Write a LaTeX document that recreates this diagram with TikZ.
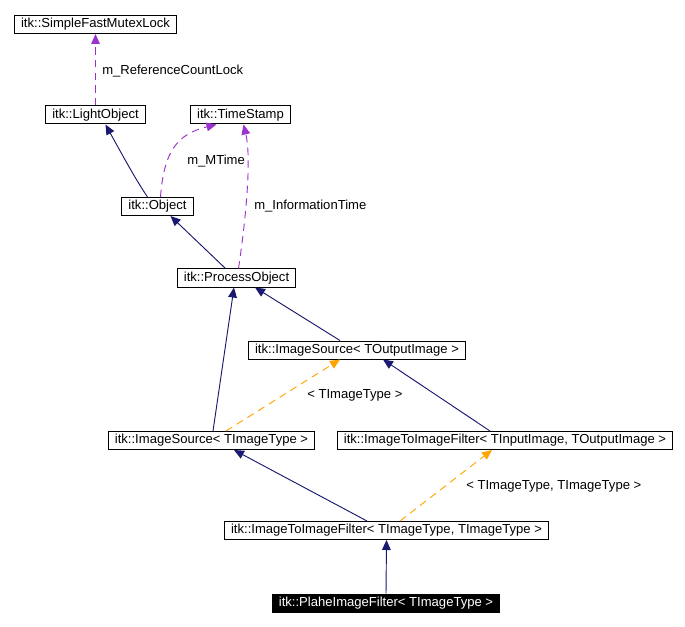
\documentclass[tikz,border=0pt]{standalone}
\usepackage{fontspec}
\setmainfont{Liberation Sans}
\usepackage{tikz}
\usetikzlibrary{arrows.meta,calc}
\definecolor{inhblue}{HTML}{191970}
\definecolor{membpurple}{HTML}{9A32CD}
\definecolor{tmplorange}{HTML}{FFA500}

\begin{document}
\begin{tikzpicture}[x=0.75pt,y=-0.75pt,every node/.style={font=\fontsize{9.8pt}{11pt}\selectfont},
    cls/.style={draw,line width=0.75pt,inner xsep=5pt,inner ysep=0pt,minimum height=13.5pt},
    inherit/.style={draw=inhblue,line width=0.7pt,-{Triangle[length=7.5pt,width=6.5pt,fill=inhblue]}},
    member/.style={draw=membpurple,line width=0.7pt,dash pattern=on 5.5pt off 4pt,-{Triangle[length=7.5pt,width=6.5pt,fill=membpurple]}},
    tmpl/.style={draw=tmplorange,line width=0.7pt,dash pattern=on 5.5pt off 4pt,-{Triangle[length=7.5pt,width=6.5pt,fill=tmplorange]}},
    lbl/.style={anchor=west,inner sep=0pt}]
                \useasboundingbox[fill=white] (0,0) rectangle (685,627);
                \node[cls] (mutex) at (95.5,24.5) {itk::SimpleFastMutexLock};
                \node[cls] (light) at (95.5,115) {itk::LightObject};
                \node[cls] (stamp) at (240.5,115) {itk::TimeStamp};
                \node[cls] (obj) at (157.5,206.5) {itk::Object};
                \node[cls] (proc) at (236.5,278) {itk::ProcessObject};
                \node[cls] (srcout) at (357,350) {itk::ImageSource< TOutputImage >};
                \node[cls] (srcimg) at (211.5,440.5) {itk::ImageSource< TImageType >};
                \node[cls] (filtio) at (505,440.5) {itk::ImageToImageFilter< TInputImage, TOutputImage >};
                \node[cls] (filtii) at (386.5,530.5) {itk::ImageToImageFilter< TImageType, TImageType >};
                \node[cls,fill=black,text=white] (plahe) at (386,603) {itk::PlaheImageFilter< TImageType >};
                \draw[member] (light.north) -- (mutex.south);
                \node[lbl] (lrefcount) at (102,71) {m\_ReferenceCountLock};
                \draw[inherit] ($(obj.north)+(-10,0)$) .. controls (136,180) and (124,158) .. ($(light.south)+(10,0)$);
                \draw[member] ($(obj.north)+(3,0)$) .. controls (164,150) and (178,134) .. ($(stamp.south)+(-24,0)$);
                \node[lbl] (lmtime) at (187,161) {m\_MTime};
                \draw[member] ($(proc.north)+(2,0)$) .. controls (245,225) and (252,160) .. ($(stamp.south)+(3,0)$);
                \node[lbl] (linfo) at (254,206) {m\_InformationTime};
                \draw[inherit] ($(proc.north)+(-11,0)$) -- ($(obj.south)+(13,0)$);
                \draw[inherit] ($(srcout.north)+(-17,0)$) -- ($(proc.south)+(18.5,0)$);
                \draw[inherit] ($(srcimg.north)+(1.5,0)$) -- ($(proc.south)+(-2.5,0)$);
                \draw[tmpl] ($(srcimg.north)+(14.5,0)$) -- ($(srcout.south)+(-17,0)$);
                \node[lbl] (lsrc) at (307,395) {< TImageType >};
                \draw[inherit] ($(filtio.north)+(-15,0)$) -- ($(srcout.south)+(26,0)$);
                \draw[inherit] ($(filtii.north)+(-19.5,0)$) -- ($(srcimg.south)+(22.5,0)$);
                \draw[tmpl] ($(filtii.north)+(13.5,0)$) -- ($(filtio.south)+(-13,0)$);
                \node[lbl] (lfilt) at (466,486) {< TImageType, TImageType >};
                \draw[inherit] (plahe.north) -- (filtii.south);
            \end{tikzpicture}
\end{document}
